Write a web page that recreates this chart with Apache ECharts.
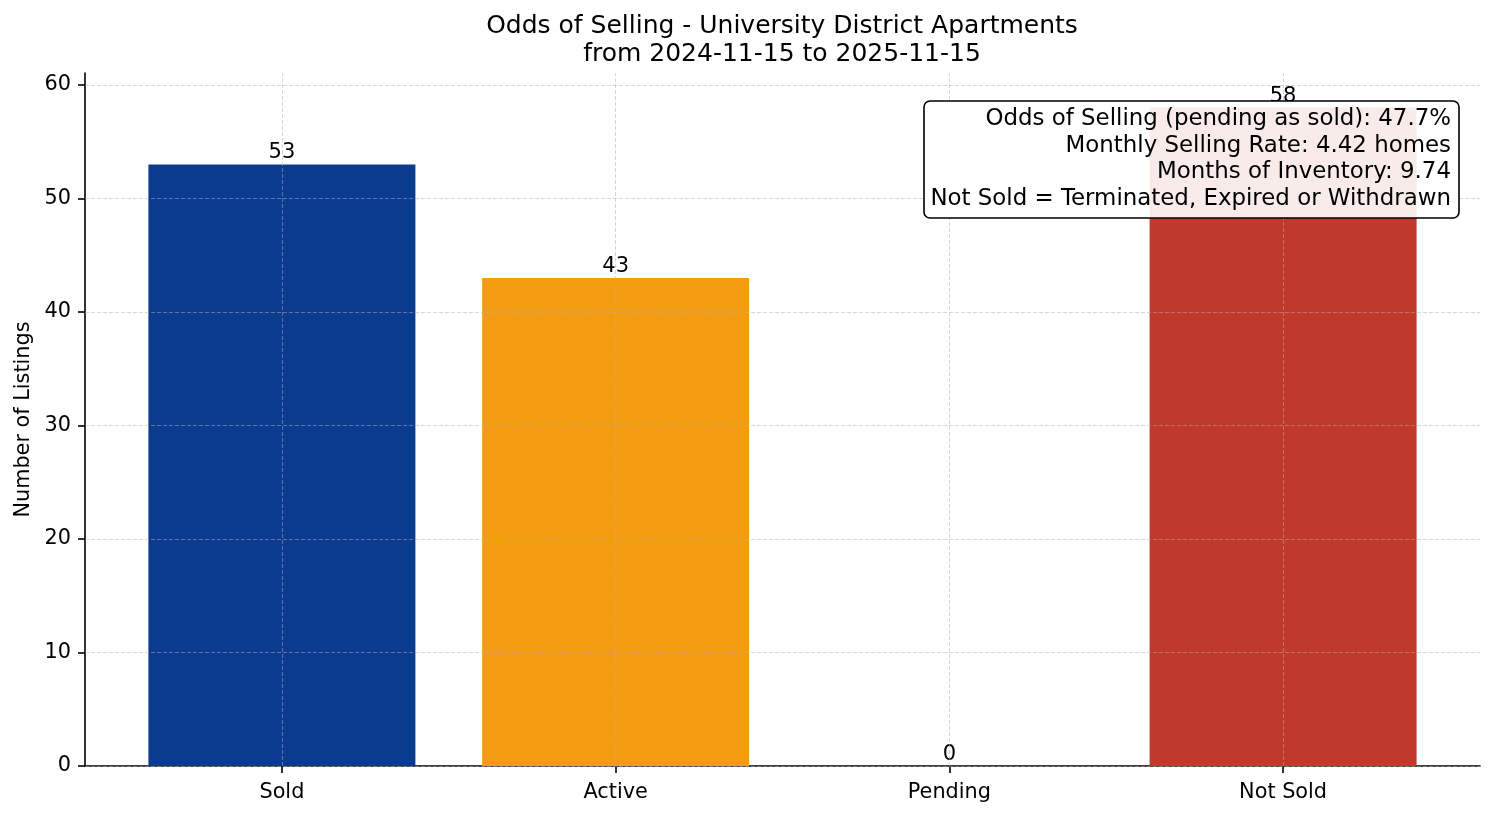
<!DOCTYPE html>
<html lang="en">
<head>
    <meta charset="UTF-8">
    <title>Odds of Selling</title>
    <script src="https://cdn.jsdelivr.net/npm/echarts@6/dist/echarts.min.js"></script>
    <style>
        html, body { margin: 0; padding: 0; background: #fff; }
        #main { width: 1494px; height: 816px; }
    </style>
</head>
<body>
<div id="main"></div>
<script>
    // 数据
    var categories = ['Sold', 'Active', 'Pending', 'Not Sold'];
    var counts = [53, 43, 0, 58];
    var barColors = ['#0b3b8f', '#f39c12', '#2ca02c', '#c0392b'];
    var yTicks = [0, 10, 20, 30, 40, 50, 60];
    var xTicks = [0, 1, 2, 3];
    var statLines = [
        'Odds of Selling (pending as sold): 47.7%',
        'Monthly Selling Rate: 4.42 homes',
        'Months of Inventory: 9.74',
        'Not Sold = Terminated, Expired or Withdrawn'
    ];

    var FONT = 'DejaVu Sans';
    var myChart = echarts.init(document.getElementById('main'));

    // 网格线（画在柱子上面）
    var gridLines = [];
    yTicks.forEach(function (v) { gridLines.push({ yAxis: v }); });
    xTicks.forEach(function (v) { gridLines.push({ xAxis: v }); });

    var option = {
        backgroundColor: '#fff',
        animation: false,
        title: {
            text: 'Odds of Selling - University District Apartments\nfrom 2024-11-15 to 2025-11-15',
            left: 782,
            top: 12,
            textAlign: 'center',
            padding: 0,
            textStyle: {
                fontFamily: FONT,
                fontSize: 25,
                fontWeight: 'normal',
                color: '#000',
                lineHeight: 28
            }
        },
        grid: { left: 85, right: 14, top: 73, bottom: 50 },
        xAxis: {
            type: 'value',
            min: -0.59,
            max: 3.59,
            axisLine: { show: true, onZero: false, lineStyle: { color: '#000', width: 1.6 } },
            axisTick: { show: true, customValues: xTicks, length: 7, inside: false, lineStyle: { color: '#000', width: 1.6 } },
            axisLabel: {
                customValues: xTicks,
                margin: 16,
                fontFamily: FONT,
                fontSize: 20.8,
                color: '#000',
                formatter: function (v) { return categories[Math.round(v)] || ''; }
            },
            splitLine: { show: false }
        },
        yAxis: {
            type: 'value',
            min: 0,
            max: 61.05,
            name: 'Number of Listings',
            nameLocation: 'middle',
            nameGap: 51,
            nameTextStyle: { fontFamily: FONT, fontSize: 20.8, color: '#000' },
            axisLine: { show: true, onZero: false, lineStyle: { color: '#000', width: 1.6 } },
            axisTick: { show: true, customValues: yTicks, length: 7, lineStyle: { color: '#000', width: 1.6 } },
            axisLabel: {
                customValues: yTicks,
                margin: 14,
                fontFamily: FONT,
                fontSize: 20.8,
                color: '#000'
            },
            splitLine: { show: false }
        },
        graphic: [{
            type: 'rect',
            z: 100,
            shape: { x: 924, y: 101, width: 535, height: 117, r: 6 },
            style: { fill: 'rgba(255,255,255,0.9)', stroke: '#000', lineWidth: 1.6 }
        }, {
            type: 'text',
            z: 101,
            x: 1451,
            y: 105.6,
            style: {
                text: statLines.join('\n'),
                align: 'right',
                verticalAlign: 'top',
                font: '22.9px "DejaVu Sans"',
                lineHeight: 26.7,
                fill: '#000'
            }
        }],
        series: [{
            type: 'bar',
            barWidth: 267,
            data: counts.map(function (c, i) {
                return { value: [xTicks[i], c], itemStyle: { color: barColors[i] } };
            }),
            label: {
                show: true,
                position: 'top',
                distance: 1,
                fontFamily: FONT,
                fontSize: 21,
                color: '#000',
                formatter: function (p) { return p.value[1]; }
            },
            markLine: {
                silent: true,
                symbol: 'none',
                label: { show: false },
                lineStyle: { color: 'rgba(176,176,176,0.5)', width: 1, type: [4, 2] },
                data: gridLines
            }
        }]
    };

    myChart.setOption(option);
</script>
</body>
</html>
